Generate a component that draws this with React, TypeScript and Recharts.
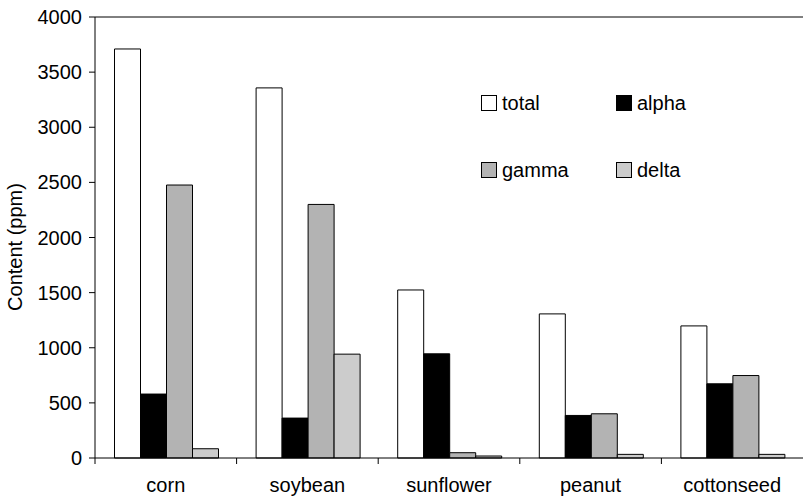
import { Bar, BarChart, ReferenceLine, XAxis, YAxis } from "recharts";

const categories = ["corn", "soybean", "sunflower", "peanut", "cottonseed"];
const total = [3710, 3357, 1524, 1307, 1198];
const alpha = [580, 362, 945, 386, 673];
const gamma = [2476, 2300, 48, 401, 748];
const delta = [84, 942, 18, 33, 33];
const yTicks = [0, 500, 1000, 1500, 2000, 2500, 3000, 3500, 4000];

const seriesNames = ["total", "alpha", "gamma", "delta"];
const seriesColors = ["#ffffff", "#000000", "#b3b3b3", "#cccccc"];

const data = categories.map((name, i) => ({
  name,
  total: total[i],
  alpha: alpha[i],
  gamma: gamma[i],
  delta: delta[i],
}));

const W = 803;
const H = 497;
const Y_AXIS_W = 95;
const BAND = (W - Y_AXIS_W) / categories.length;
const FONT = "'Liberation Sans', Arial, sans-serif";

// Excel-style: tick marks sit between categories, not under them
const CategoryTick = (props: { x?: number; y?: number; payload?: { value: string } }) => {
  const { x = 0, y = 0, payload } = props;
  const left = x - BAND / 2;
  return (
    <g>
      <line x1={left} y1={y} x2={left} y2={y + 6} stroke="#000" />
      <text x={x} y={y + 34} textAnchor="middle" fontSize={20} fontFamily={FONT} fill="#000">
        {payload?.value}
      </text>
    </g>
  );
};

// legend lives outside the chart so it doesn't eat plot space
const LegendBox = () => (
  <div
    style={{
      position: "absolute",
      left: 481,
      top: 95,
      display: "grid",
      gridTemplateColumns: "135px 135px",
      rowGap: 51,
      fontFamily: FONT,
      fontSize: 20,
      color: "#000",
    }}
  >
    {seriesNames.map((n, i) => (
      <div key={n} style={{ display: "flex", alignItems: "center", height: 16 }}>
        <span
          style={{
            width: 14,
            height: 14,
            border: "1px solid #000",
            background: seriesColors[i],
            marginRight: 5,
          }}
        />
        <span style={{ lineHeight: "16px" }}>{n}</span>
      </div>
    ))}
  </div>
);

export default function App() {
  return (
    <div style={{ position: "absolute", left: 0, top: 0, width: W, height: H, background: "#fff" }}>
      <BarChart
        width={W}
        height={H}
        data={data}
        margin={{ top: 17, right: 0, bottom: 0, left: 0 }}
        barCategoryGap={19.5}
        barGap={0}
      >
        <XAxis
          dataKey="name"
          height={39}
          stroke="#000"
          tickLine={false}
          tickSize={0}
          tickMargin={0}
          tick={<CategoryTick />}
          interval={0}
        />
        <YAxis
          width={Y_AXIS_W}
          domain={[0, 4000]}
          ticks={yTicks}
          stroke="#000"
          tickSize={6}
          tickMargin={7}
          tick={{ fill: "#000", fontSize: 20, fontFamily: FONT }}
          label={{
            content: () => (
              <text
                x={15}
                y={247}
                transform="rotate(-90 15 247)"
                textAnchor="middle"
                dominantBaseline="central"
                fontSize={20}
                fontFamily={FONT}
                fill="#000"
              >
                Content (ppm)
              </text>
            ),
          }}
        />
        <ReferenceLine y={4000} stroke="#000" />
        {seriesNames.map((n, i) => (
          <Bar
            key={n}
            dataKey={n}
            fill={seriesColors[i]}
            stroke="#000"
            strokeWidth={1}
            isAnimationActive={false}
          />
        ))}
      </BarChart>
      <LegendBox />
    </div>
  );
}
